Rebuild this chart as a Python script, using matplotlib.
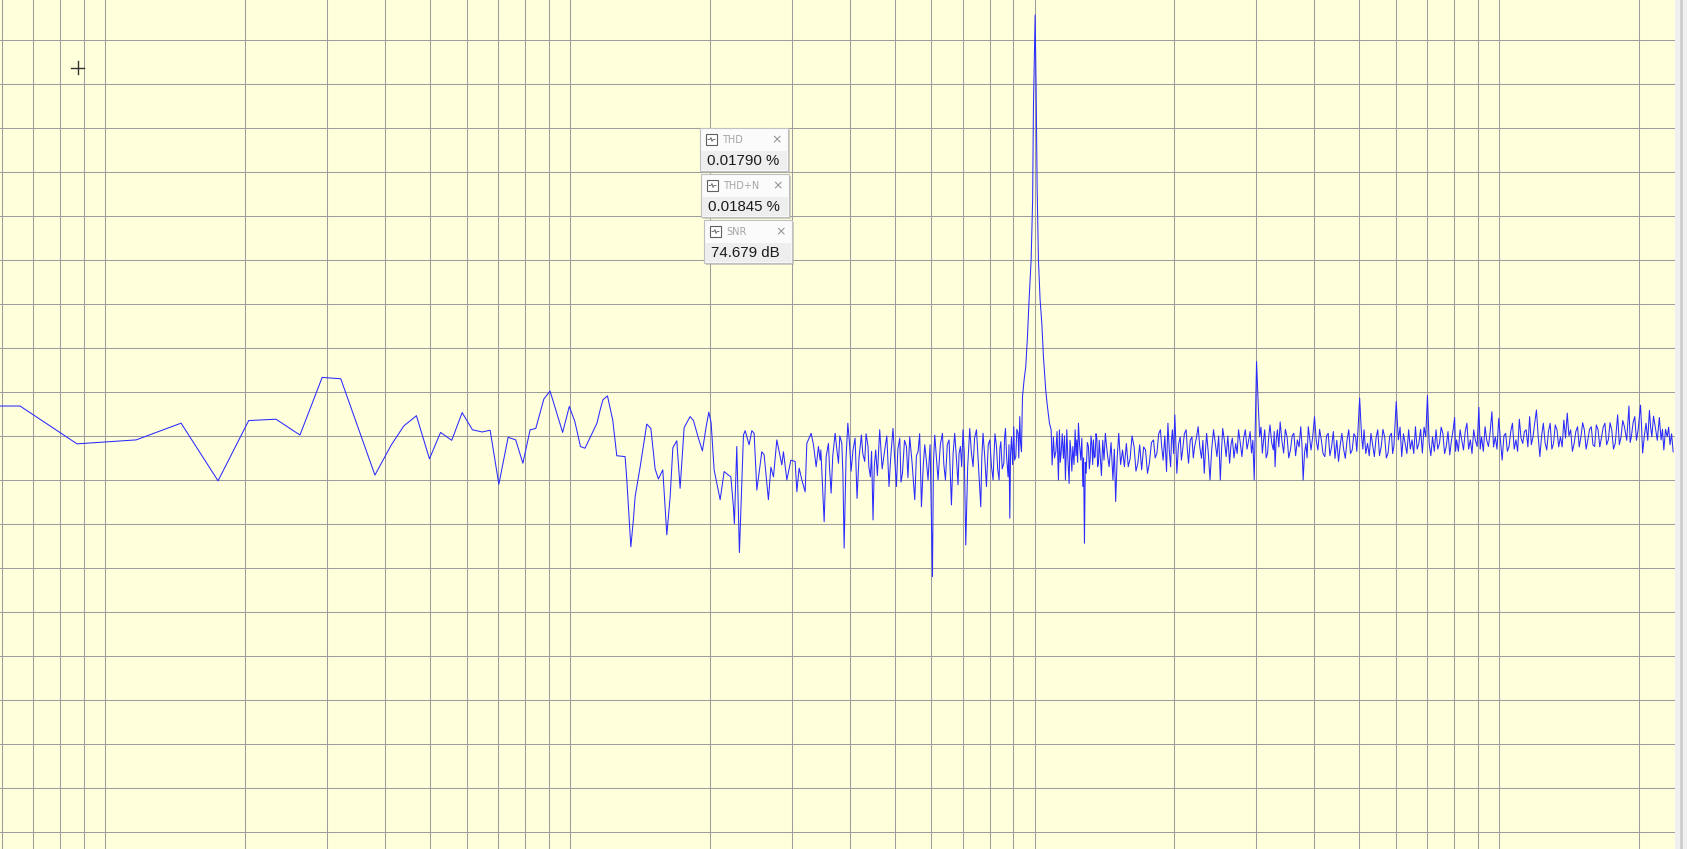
import matplotlib
matplotlib.use('Agg')
import matplotlib.pyplot as plt
from matplotlib.patches import Rectangle
from matplotlib.lines import Line2D
from matplotlib.ticker import LogLocator, MultipleLocator
import numpy as np

W, H = 1687, 849

# spectrum trace, (Hz, dB)
low = [(5.9, -83.2), (6.56, -83.2), (8.70, -91.8), (11.66, -90.9), (14.57, -87.1),
       (17.50, -100.2), (20.37, -86.5), (23.32, -86.2), (26.26, -89.8), (29.31, -76.7),
       (32.14, -77.0), (38.07, -98.9), (41.31, -92.0), (43.95, -87.7), (46.76, -85.4),
       (49.88, -95.2), (52.70, -89.2), (55.70, -91.0), (58.65, -84.7), (61.72, -88.6),
       (64.76, -89.1), (67.38, -88.7), (70.35, -101.0), (73.66, -90.3), (76.47, -90.9),
       (79.25, -96.2), (82.13, -88.6), (84.47, -88.3), (87.93, -81.6), (90.67, -79.8),
       (96.5, -89.2), (99.75, -83.3), (102.5, -86.7), (105.4, -92.4), (107.8, -92.8),
       (114.4, -87.1)]

mid = [(116.2, -84.1), (117.8, -81.8), (120.5, -80.9), (123.7, -86.4), (126.2, -94.5),
       (131.5, -94.7), (132.6, -99.8), (135.3, -115.2), (137.0, -109.1), (138.2, -103.8),
       (141.7, -97.0), (146.4, -87.3), (149.4, -88.3), (152.6, -97.5), (155.1, -99.8),
       (158.5, -97.7), (161.7, -112.5), (164.4, -103.8), (166.6, -92.7), (169.9, -91.1),
       (172.7, -101.9), (176.2, -88.1), (181.5, -85.6), (184.5, -86.5), (189.1, -90.5),
       (192.9, -93.4), (196.5, -87.9), (199.1, -84.6), (201.4, -87.0), (204.4, -97.7),
       (210.6, -104.5), (214.8, -98.1), (219.4, -98.9), (222.1, -99.3), (224.9, -106.1),
       (226.0, -110.0), (228.7, -92.4), (231.7, -116.5), (236.4, -89.8), (238.4, -88.8),
       (243.1, -92.0), (246.4, -88.8), (249.2, -89.4), (252.6, -102.3), (258.9, -93.6),
       (261.9, -94.3), (267.5, -104.5), (270.8, -97.1), (274.3, -99.3), (278.9, -90.9),
       (285.9, -96.6), (288.2, -93.6), (293.1, -100.0), (299.0, -95.5), (305.4, -95.8),
       (308.0, -102.7), (311.5, -97.3), (315.7, -100.0), (320.9, -102.7), (323.6, -91.7),
       (330.6, -89.4), (334.4, -92.0), (338.9, -97.0), (342.8, -92.4), (345.7, -95.5)]

dense = [(346.9, -93.2), (351.4, -105.7), (352.6, -109.5), (356.1, -94.7), (360.2, -91.7),
         (362, -97.0), (365.0, -103.0), (368, -94.5), (372.3, -89.4), (375, -92.5),
         (378.5, -96.2), (381, -90.0), (384.9, -91.7), (387, -99.0), (389.3, -115.5),
         (393, -95.0), (396.5, -87.1), (400.0, -92.0), (403, -98.0), (406.8, -93.2),
         (411, -90.5), (415.0, -104.2), (419, -95.0), (424.1, -89.8), (427, -94.0),
         (431.1, -95.8), (434, -89.5), (438.2, -92.4), (440, -97.0), (443.4, -99.3),
         (446, -93.5), (449.2, -109.1), (452, -97.0), (455.2, -93.2), (459, -99.0),
         (464.3, -88.6), (470, -97.5), (476.0, -93.2), (481, -90.0), (486.2, -101.5),
         (491, -94.0), (496.0, -88.3), (500, -95.0), (504.5, -101.5), (508, -93.0),
         (512.8, -90.5), (516, -100.5), (519.7, -98.5), (525, -91.0), (530.1, -92.4),
         (534, -99.5), (538.8, -90.2), (545, -96.0), (552.4, -104.5), (557, -94.5),
         (561.4, -93.6), (566, -89.5), (571.0, -106.1), (576, -97.0), (580.4, -92.0),
         (585, -95.5), (590.0, -100.0), (596, -92.0), (603.0, -122.0), (606, -96.0),
         (609.9, -89.8), (615, -95.0), (620.0, -100.0), (627, -92.0), (633.6, -89.4),
         (638, -96.5), (643.1, -100.0), (649, -92.0), (654.7, -90.9), (658, -97.0),
         (662.5, -105.7), (668, -94.0), (673.4, -89.4), (679, -95.0), (684.5, -101.1),
         (688, -94.0), (692.7, -92.4), (697, -97.0), (701.7, -88.6), (706, -94.0),
         (711.2, -114.8), (718, -97.0), (725.4, -88.3), (731, -93.5), (737.4, -97.0),
         (743, -90.5), (750.0, -88.6), (758, -97.5), (766.1, -106.1), (770, -95.0),
         (774.8, -89.4), (781, -94.5), (788.0, -101.5), (795, -92.0), (801.2, -90.9),
         (808, -97.0), (814.4, -100.0)]

peak = [(817.2, -95.5), (822, -89.5), (828.2, -92.4), (833, -97.5), (839.0, -100.0),
        (842, -93.0), (846.1, -91.3), (852, -97.5), (858.8, -96.2), (862, -90.5),
        (866.0, -88.3), (871, -95.0), (877.2, -99.3), (881, -92.0), (884.7, -108.7),
        (888, -94.0), (892.2, -90.2), (897, -96.5), (902.2, -87.9), (906, -95.5),
        (911.3, -94.7), (916, -88.5), (921.7, -89.4), (925, -95.0), (929.4, -85.6),
        (933, -91.5), (937.3, -93.6), (942.0, -81.1), (949.5, -77.3), (957.5, -74.2),
        (965.6, -67.4), (973.3, -59.1), (983.3, -50.0), (990.6, -36.4), (994.6, -15.2),
        (1003, 5.7), (1008, -11.8), (1013, -33.6), (1019.5, -50.0), (1028, -59.1),
        (1036.8, -64.4), (1045.1, -72.0), (1057.6, -79.9), (1066.0, -83.3),
        (1076.6, -87.1), (1085.8, -88.6)]

after = [(1091.1, -96.6), (1098.1, -90.2), (1104, -95.0), (1111.3, -93.6), (1118, -89.0),
         (1125.7, -100.0), (1131.3, -88.6), (1136, -96.0), (1140.9, -93.9), (1147, -89.5),
         (1154.0, -95.1), (1160, -90.0), (1165.4, -100.0), (1173.5, -88.6), (1180, -95.5),
         (1187.0, -100.8), (1192, -91.0), (1197.1, -93.2), (1203, -98.0), (1209.0, -92.4),
         (1216, -96.5), (1222.9, -88.6), (1228, -94.5), (1233.2, -90.9), (1238, -96.0),
         (1243.0, -87.1), (1250, -92.0), (1257.8, -95.5), (1264, -90.5), (1270.4, -101.5),
         (1275, -95.0), (1280.6, -114.4), (1286, -96.0), (1291.4, -98.5), (1299, -91.5),
         (1306.2, -92.4), (1312, -97.5), (1317.2, -95.5), (1323, -90.0), (1328.3, -91.7),
         (1334, -96.5), (1338.9, -90.9), (1345, -95.0), (1350.3, -94.7), (1356, -89.5),
         (1361.6, -90.5), (1367, -97.0), (1372.5, -96.2), (1378, -91.0), (1384.0, -94.3),
         (1393, -99.0), (1402, -91.0), (1411, -95.5), (1420.2, -89.4), (1434, -94.0),
         (1447.2, -97.0), (1461, -91.5), (1474.8, -100.0), (1485, -93.0), (1494.7, -104.9),
         (1506, -95.0), (1517.7, -89.4), (1532, -96.5), (1546.6, -93.2), (1561, -97.0),
         (1576.1, -91.7), (1591, -97.0), (1606.0, -95.1), (1621, -90.0), (1637.3, -92.4),
         (1653, -98.0), (1668.5, -96.2), (1684, -92.0), (1700.2, -97.7), (1717, -92.5),
         (1733.3, -93.2), (1750, -98.5), (1766.3, -96.2), (1785, -91.5)]

high = [(1803.2, -90.9), (1818, -95.0), (1833.9, -93.9), (1850, -89.5), (1866.0, -88.6),
        (1878, -92.5), (1891.1, -95.5), (1907, -90.0), (1923.3, -98.1), (1930, -92.0),
        (1936.6, -87.1), (1950, -93.5), (1962.7, -97.0), (1971, -91.0), (1980.3, -88.6),
        (1992, -94.0), (2004, -85.2), (2014, -91.5), (2024, -98.5), (2041, -92.0),
        (2058.3, -90.2), (2070, -95.5), (2082.9, -93.2), (2101, -89.5), (2119.4, -88.6),
        (2132, -93.0), (2144.8, -96.2), (2163, -91.0), (2181.2, -90.2), (2196, -95.0),
        (2210.6, -92.4), (2230, -90.5), (2249.2, -87.9), (2268, -92.5), (2287.5, -95.1),
        (2303, -91.0), (2318.3, -98.5), (2332, -93.5), (2346.1, -89.4), (2366, -94.0),
        (2385.8, -100.0), (2406, -93.0), (2427.4, -88.6), (2448, -91.5), (2468.8, -94.7),
        (2490, -90.0), (2510.6, -100.0), (2525, -93.5), (2540.7, -88.3), (2562, -91.0),
        (2584.0, -94.7), (2606, -90.0), (2629.1, -96.2), (2647, -92.0), (2664.6, -90.5),
        (2687, -95.0), (2709.7, -91.7), (2729, -94.0), (2747.6, -88.6), (2771, -91.5),
        (2794.5, -94.7), (2818, -90.5), (2841.8, -88.6), (2866, -93.0), (2890.2, -90.9),
        (2910, -89.0), (2930.4, -93.9), (2950, -91.0), (2969.9, -100.0), (3004.5, -73.1),
        (3030, -83.0), (3051, -90.2), (3071, -88.0), (3092, -93.9), (3110, -91.0),
        (3129, -88.6), (3151, -95.0), (3173, -93.9), (3192, -90.0), (3211, -87.5),
        (3238, -91.5), (3265, -93.2), (3279, -89.0), (3293, -97.0), (3312, -91.0),
        (3332, -88.6), (3355, -92.5), (3377, -86.8), (3406, -91.0), (3436, -93.9),
        (3465, -88.5), (3495, -90.2), (3524, -95.0), (3554, -93.2), (3584, -90.0),
        (3614, -89.4), (3646, -94.5), (3678, -90.9), (3709, -92.5), (3740, -87.9),
        (3762, -92.0), (3785, -100.0), (3810, -94.0), (3836, -91.7), (3859, -95.0),
        (3882, -87.9), (3909, -90.5), (3936, -93.2), (3970, -90.0), (4004, -85.6),
        (4038, -91.0), (4072, -93.2), (4106, -88.5), (4141, -90.9), (4177, -94.0),
        (4214, -94.7), (4249, -90.0), (4285, -89.4), (4321, -94.5), (4358, -92.4),
        (4395, -89.0), (4432, -95.1), (4471, -91.0), (4510, -95.8), (4548, -92.0),
        (4586, -89.4), (4625, -93.0), (4664, -95.1), (4704, -91.0), (4744, -88.6),
        (4785, -94.0), (4826, -93.2), (4867, -89.5), (4908, -90.2), (4937, -93.5),
        (4967, -88.6), (5007, -81.4), (5057, -90.2), (5087, -93.0), (5117, -88.6),
        (5162, -94.0), (5207, -91.7), (5251, -94.5), (5296, -89.4), (5341, -92.0),
        (5386, -94.7), (5431, -90.5), (5477, -88.6), (5525, -94.5), (5573, -92.4),
        (5620, -88.5), (5668, -90.2), (5716, -95.0), (5764, -93.9), (5813, -90.0),
        (5862, -89.4), (5897, -94.0), (5932, -92.4), (6003, -82.2), (6066, -90.9),
        (6117, -88.0), (6169, -94.7), (6221, -89.5), (6274, -91.7), (6328, -94.0),
        (6383, -88.6), (6437, -93.0), (6492, -90.9), (6547, -94.0), (6602, -87.9),
        (6658, -93.0), (6714, -91.7), (6773, -88.5), (6832, -93.9), (6890, -88.0),
        (6948, -90.2), (7007, -80.8), (7066, -91.7), (7126, -94.5), (7186, -90.2),
        (7249, -93.5), (7312, -88.6), (7374, -93.0), (7437, -91.7), (7500, -88.0),
        (7563, -89.4), (7627, -94.0), (7691, -92.4), (7758, -89.0), (7826, -94.3),
        (7892, -91.0), (7958, -88.6), (8016, -85.8), (8055, -93.5), (8095, -90.9),
        (8166, -93.5), (8237, -88.6), (8307, -91.0), (8377, -93.2), (8448, -89.0),
        (8519, -87.1), (8592, -93.0), (8665, -90.9), (8738, -94.0), (8811, -88.6),
        (8886, -91.0), (8962, -92.4), (9040, -83.5), (9101, -93.0), (9162, -90.2),
        (9242, -93.5), (9322, -87.9), (9401, -91.0), (9480, -92.4), (9561, -89.0),
        (9642, -84.5), (9723, -92.5), (9805, -90.2), (9890, -93.0), (9975, -86.0),
        (10060, -91.0), (10145, -95.5), (10233, -90.0), (10322, -89.4), (10410, -93.5),
        (10498, -92.4), (10587, -89.0), (10676, -87.1), (10769, -93.0), (10862, -90.9),
        (10954, -93.5), (11047, -86.2), (11141, -90.5), (11235, -91.7), (11330, -89.0),
        (11426, -88.6), (11525, -92.5), (11625, -85.6), (11724, -92.0), (11823, -90.2),
        (11923, -87.0), (12024, -84.1), (12126, -90.0), (12229, -94.7), (12335, -90.0),
        (12442, -87.1), (12548, -91.5), (12654, -93.2), (12761, -89.0), (12869, -87.1),
        (12978, -93.0), (13088, -91.7), (13199, -87.5), (13310, -88.6), (13426, -92.5),
        (13542, -90.2), (13657, -92.5), (13773, -86.4), (13889, -90.5), (14006, -84.8),
        (14125, -90.0), (14245, -88.6), (14369, -93.5), (14494, -91.7), (14617, -89.0),
        (14740, -87.9), (14865, -92.5), (14990, -90.2), (15118, -87.0), (15246, -88.6),
        (15379, -93.0), (15512, -90.9), (15644, -88.5), (15776, -87.9), (15909, -92.0),
        (16043, -92.4), (16179, -87.5), (16316, -88.6), (16458, -92.5), (16601, -90.2),
        (16742, -88.0), (16883, -87.1), (17026, -92.0), (17170, -90.9), (17316, -87.0),
        (17462, -88.6), (17614, -93.0), (17767, -91.7), (17980, -85.2), (18132, -92.0),
        (18285, -90.2), (18441, -86.5), (18597, -87.9), (18806, -91.0), (19016, -83.2),
        (19130, -91.5), (19244, -90.2), (19407, -87.0), (19570, -85.6), (19736, -91.0),
        (19902, -88.6), (20139, -83.0), (20244, -88.0), (20349, -93.9), (20522, -90.0),
        (20696, -87.1), (20871, -91.0), (21046, -84.2), (21172, -88.0), (21299, -90.2),
        (21480, -85.5), (21661, -87.9), (21883, -91.0), (22105, -85.8), (22303, -90.9),
        (22450, -88.5), (22604, -93.2), (22795, -88.5), (22987, -90.2), (23148, -88.0),
        (23309, -92.0), (23490, -89.5), (23670, -93.6)]

readout_names = ['THD', 'THD+N', 'SNR']
readout_values = ['0.01790 %', '0.01845 %', '74.679 dB']

freq, level = np.array(low + mid + dense + peak + after + high).T

fig = plt.figure(figsize=(W / 100, H / 100), dpi=100)
fig.patch.set_facecolor('#f4f4f4')
ax = fig.add_axes([0, 0, 1675 / W, 1])
ax.set_facecolor('#ffffdc')
ax.set_xscale('log')
ax.set_xlim(5.94, 23890)
ax.set_ylim(-183.9, 9.1)
ax.xaxis.set_major_locator(LogLocator(base=10))
ax.xaxis.set_minor_locator(LogLocator(base=10, subs=np.arange(2, 10)))
ax.yaxis.set_major_locator(MultipleLocator(10))
ax.set_axisbelow(True)
ax.grid(True, which='both', color='#9d9d9d', lw=0.75)
ax.tick_params(which='both', length=0, labelleft=False, labelbottom=False)
for s in ax.spines.values():
    s.set_visible(False)

ax.plot(freq, level, color='#2a2aff', lw=0.75)


def fx(x):
    return x / W


def fy(y):
    return 1 - y / H


def rect(x, y, w, h, **kw):
    fig.add_artist(Rectangle((fx(x), fy(y + h)), w / W, h / H,
                             transform=fig.transFigure, **kw))


def seg(xs, ys, **kw):
    fig.add_artist(Line2D([fx(v) for v in xs], [fy(v) for v in ys],
                          transform=fig.transFigure, **kw))


# scrollbar edge on the right
rect(1675, 0, 12, H, fc='#f0f0f0', ec='none')
seg([1681, 1681], [0, H], color='#cdcdcd', lw=2)

# cursor cross
seg([71, 84], [67.5, 67.5], color='#333333', lw=1)
seg([77.5, 77.5], [61, 74], color='#333333', lw=1)

# readout widgets
box_x = [700, 701, 704]
box_y = [128, 174, 220]
for name, value, x0, y0 in zip(readout_names, readout_values, box_x, box_y):
    w, h = 88, 43
    rect(x0 + 2, y0 + 2, w, h, fc='#b0b0b0', ec='none', alpha=0.6)
    rect(x0, y0, w, h, fc='#fbfbfb', ec='#c0c0c0', lw=0.8)
    rect(x0 + 1, y0 + 23, w - 2, h - 24, fc='#eeeeee', ec='none')
    rect(x0 + 6, y0 + 6, 11, 11, fc='white', ec='#606060', lw=0.8)
    seg([x0 + 8, x0 + 10, x0 + 11, x0 + 12, x0 + 13, x0 + 15],
        [y0 + 11.5, y0 + 11.5, y0 + 9.5, y0 + 13.5, y0 + 11.5, y0 + 11.5],
        color='#606060', lw=0.6)
    fig.text(fx(x0 + 22), fy(y0 + 12), name, fontsize=7, color='#a4a4a4',
             va='center', family='DejaVu Sans')
    fig.text(fx(x0 + w - 11), fy(y0 + 11.5), '×', fontsize=9, color='#909090',
             ha='center', va='center', family='DejaVu Sans')
    fig.text(fx(x0 + 7), fy(y0 + 33), value, fontsize=10.8, color='#1a1a1a',
             va='center', family='Liberation Sans')

fig.savefig('out.png', dpi=100, facecolor=fig.get_facecolor())
